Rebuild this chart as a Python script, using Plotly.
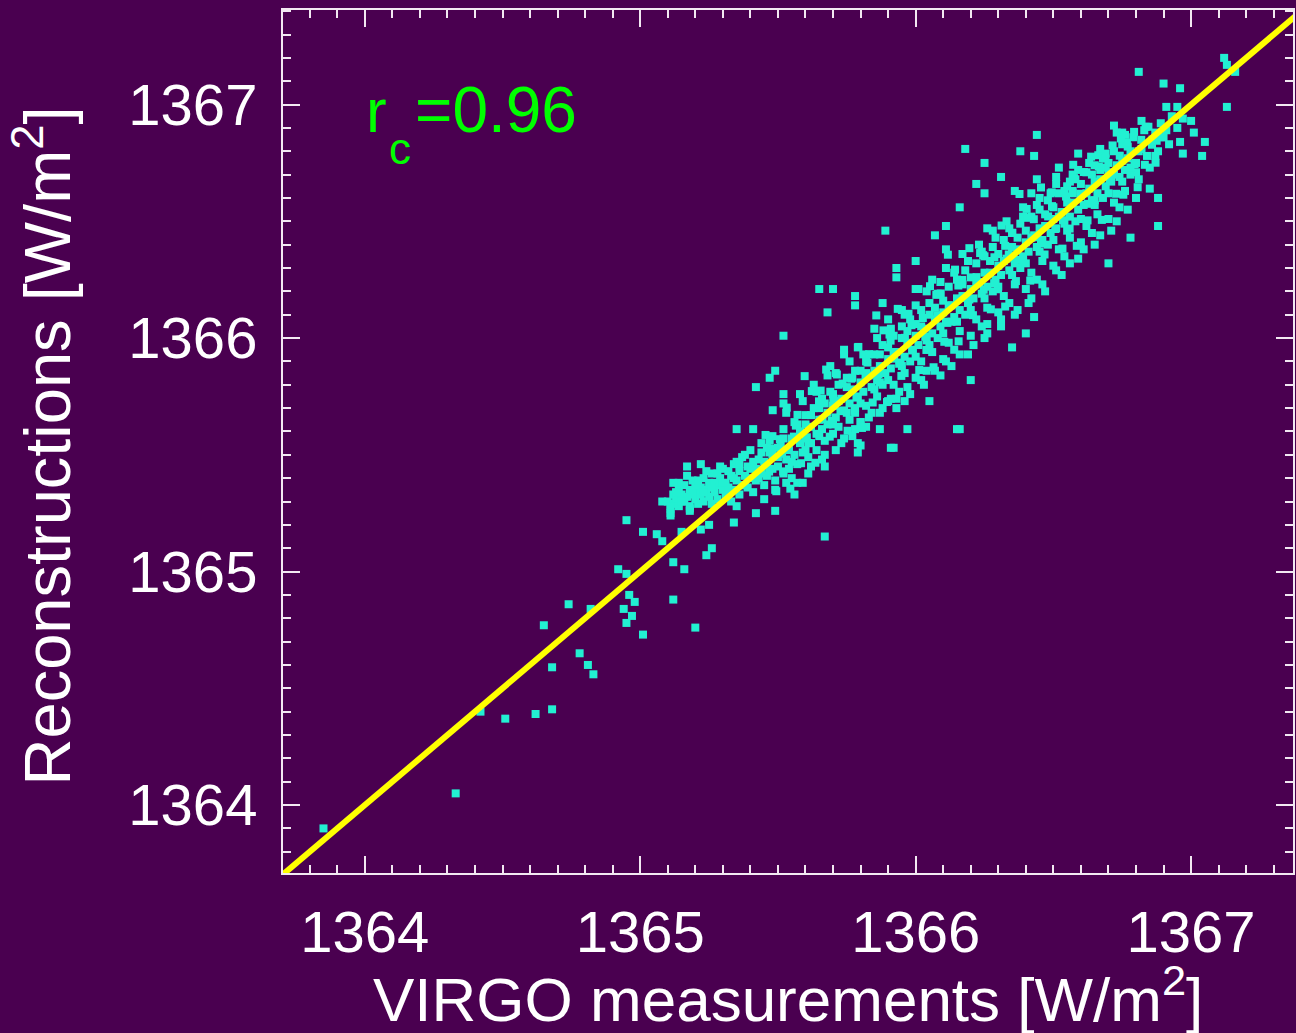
import plotly.graph_objects as go

# ---------------- data ----------------
core_pts = [
(1365.10,1365.30),(1365.11,1365.27),(1365.12,1365.33),(1365.12,1365.29),
(1365.13,1365.31),(1365.14,1365.35),(1365.14,1365.28),(1365.15,1365.33),
(1365.16,1365.30),(1365.16,1365.37),(1365.17,1365.32),(1365.18,1365.28),
(1365.18,1365.35),(1365.19,1365.39),(1365.20,1365.31),(1365.20,1365.34),
(1365.21,1365.29),(1365.22,1365.36),(1365.22,1365.33),(1365.23,1365.40),
(1365.23,1365.30),(1365.24,1365.35),(1365.25,1365.32),(1365.25,1365.38),
(1365.26,1365.29),(1365.26,1365.42),(1365.27,1365.34),(1365.28,1365.37),
(1365.28,1365.31),(1365.29,1365.40),(1365.30,1365.35),(1365.30,1365.44),
(1365.31,1365.32),(1365.31,1365.38),(1365.32,1365.36),(1365.33,1365.41),
(1365.33,1365.30),(1365.34,1365.46),(1365.34,1365.35),(1365.35,1365.39),
(1365.36,1365.43),(1365.36,1365.33),(1365.37,1365.37),(1365.37,1365.49),
(1365.38,1365.41),(1365.39,1365.36),(1365.39,1365.45),(1365.40,1365.40),
(1365.40,1365.52),(1365.41,1365.34),(1365.42,1365.44),(1365.42,1365.39),
(1365.43,1365.48),(1365.44,1365.42),(1365.44,1365.55),(1365.45,1365.37),
(1365.46,1365.46),(1365.46,1365.41),(1365.47,1365.51),(1365.48,1365.44),
(1365.48,1365.58),(1365.49,1365.39),(1365.50,1365.49),(1365.50,1365.45),
(1365.51,1365.54),(1365.52,1365.42),(1365.52,1365.61),(1365.53,1365.48),
(1365.54,1365.52),(1365.54,1365.44),(1365.55,1365.57),(1365.56,1365.50),
(1365.56,1365.64),(1365.57,1365.46),(1365.58,1365.55),(1365.58,1365.60),
(1365.59,1365.51),(1365.60,1365.67),(1365.60,1365.57),(1365.61,1365.49),
(1365.62,1365.62),(1365.62,1365.55),(1365.63,1365.70),(1365.64,1365.59),
(1365.64,1365.52),(1365.65,1365.65),(1365.66,1365.61),(1365.66,1365.74),
(1365.67,1365.56),(1365.68,1365.68),(1365.68,1365.63),(1365.69,1365.77),
(1365.70,1365.59),(1365.70,1365.71),(1365.71,1365.66),(1365.72,1365.80),
(1365.72,1365.62),(1365.73,1365.74),(1365.74,1365.69),(1365.74,1365.57),
(1365.75,1365.83),(1365.76,1365.72),(1365.76,1365.65),(1365.77,1365.78),
(1365.78,1365.70),(1365.78,1365.86),(1365.79,1365.75),(1365.80,1365.64),
(1365.80,1365.81),(1365.81,1365.77),(1365.82,1365.90),(1365.82,1365.71),
(1365.83,1365.84),(1365.84,1365.79),(1365.84,1365.68),(1365.85,1365.93),
(1365.86,1365.82),(1365.86,1365.75),(1365.87,1365.88),(1365.88,1365.80),
(1365.88,1365.97),(1365.89,1365.85),(1365.90,1365.73),(1365.90,1365.91),
(1365.91,1365.87),(1365.92,1366.01),(1365.92,1365.80),(1365.93,1365.94),
(1365.94,1365.89),(1365.94,1365.77),(1365.95,1366.05),(1365.96,1365.92),
(1365.96,1365.85),(1365.97,1365.98),(1365.98,1365.90),(1365.98,1366.08),
(1365.99,1365.95),(1366.00,1365.83),(1366.00,1366.01),(1366.01,1365.97),
(1366.02,1366.12),(1366.02,1365.90),(1366.03,1366.04),(1366.04,1365.99),
(1366.04,1365.86),(1366.05,1366.15),(1366.06,1366.02),(1366.06,1365.94),
(1366.07,1366.08),(1366.08,1366.00),(1366.08,1366.19),(1366.09,1366.05),
(1366.10,1365.91),(1366.10,1366.11),(1366.11,1366.07),(1366.12,1366.22),
(1366.12,1365.98),(1366.13,1366.14),(1366.14,1366.09),(1366.14,1365.95),
(1366.15,1366.25),(1366.16,1366.12),(1366.16,1366.03),(1366.17,1366.18),
(1366.18,1366.10),(1366.18,1366.29),(1366.19,1366.15),(1366.20,1366.01),
(1366.20,1366.21),(1366.21,1366.17),(1366.22,1366.32),(1366.22,1366.08),
(1366.23,1366.24),(1366.24,1366.19),(1366.24,1366.05),(1366.25,1366.35),
(1366.26,1366.22),(1366.26,1366.13),(1366.27,1366.28),(1366.28,1366.20),
(1366.28,1366.39),(1366.29,1366.25),(1366.30,1366.11),(1366.30,1366.31),
(1366.31,1366.27),(1366.32,1366.42),(1366.32,1366.18),(1366.33,1366.34),
(1366.34,1366.29),(1366.34,1366.15),(1366.35,1366.45),(1366.36,1366.32),
(1366.36,1366.23),(1366.37,1366.38),(1366.38,1366.30),(1366.38,1366.49),
(1366.39,1366.35),(1366.40,1366.21),(1366.40,1366.41),(1366.41,1366.37),
(1366.42,1366.52),(1366.42,1366.28),(1366.43,1366.44),(1366.44,1366.39),
(1366.44,1366.25),(1366.45,1366.55),(1366.46,1366.42),(1366.46,1366.33),
(1366.47,1366.48),(1366.48,1366.40),(1366.48,1366.59),(1366.49,1366.45),
(1366.50,1366.31),(1366.50,1366.51),(1366.51,1366.47),(1366.52,1366.62),
(1366.52,1366.38),(1366.53,1366.54),(1366.54,1366.49),(1366.54,1366.35),
(1366.55,1366.65),(1366.56,1366.52),(1366.56,1366.43),(1366.57,1366.58),
(1366.58,1366.50),(1366.58,1366.68),(1366.59,1366.55),(1366.60,1366.41),
(1366.60,1366.61),(1366.61,1366.57),(1366.62,1366.71),(1366.62,1366.48),
(1366.63,1366.64),(1366.64,1366.59),(1366.64,1366.45),(1366.65,1366.74),
(1366.66,1366.62),(1366.66,1366.53),(1366.67,1366.68),(1366.68,1366.60),
(1366.68,1366.77),(1366.69,1366.65),(1366.70,1366.51),(1366.70,1366.71),
(1366.71,1366.67),(1366.72,1366.80),(1366.72,1366.58),(1366.73,1366.74),
(1366.74,1366.69),(1366.75,1366.83),(1366.76,1366.72),(1366.76,1366.63),
(1366.77,1366.77),(1366.78,1366.70),(1366.79,1366.86),(1366.80,1366.75),
(1366.81,1366.68),(1366.82,1366.81),(1366.83,1366.89),(1366.84,1366.78),
(1366.85,1366.73),(1366.86,1366.85),(1366.88,1366.80),(1366.89,1366.92),
(1366.90,1366.86),(1366.92,1366.83),(1366.93,1366.95),(1366.95,1366.90),
]

wide_pts = [
(1365.52,1365.72),(1365.55,1365.40),(1365.58,1365.76),(1365.61,1365.42),
(1365.63,1365.80),(1365.66,1365.48),(1365.69,1365.88),(1365.71,1365.52),
(1365.74,1365.93),(1365.77,1365.58),(1365.79,1365.96),(1365.82,1365.62),
(1365.85,1366.04),(1365.87,1365.68),(1365.90,1366.08),(1365.93,1365.70),
(1365.95,1366.12),(1365.98,1365.76),(1366.01,1366.21),(1366.03,1365.80),
(1366.06,1366.25),(1366.09,1365.84),(1366.11,1366.30),(1366.13,1365.88),
(1366.17,1366.36),(1366.19,1365.93),(1366.23,1366.40),(1366.25,1366.00),
(1366.28,1366.46),(1366.31,1366.05),(1366.33,1366.50),(1366.36,1366.10),
(1366.39,1366.56),(1366.41,1366.15),(1366.45,1366.60),(1366.47,1366.20),
(1366.51,1366.66),(1366.53,1366.27),(1366.57,1366.70),(1366.59,1366.34),
(1366.63,1366.75),(1366.65,1366.40),(1366.69,1366.79),(1366.71,1366.46),
(1366.75,1366.88),(1366.77,1366.55),(1366.82,1366.93),(1366.85,1366.64),
(1365.53,1365.68),(1365.57,1365.38),(1365.59,1365.73),(1365.62,1365.45),
(1365.64,1365.77),(1365.67,1365.50),(1365.68,1365.84),(1365.71,1365.85),
(1365.73,1365.55),(1365.76,1365.90),(1365.78,1365.61),(1365.81,1365.93),
(1365.83,1365.66),(1365.86,1366.00),(1365.88,1365.70),(1365.91,1366.04),
(1365.93,1365.74),(1365.96,1366.10),(1365.97,1365.79),(1366.00,1366.14),
(1366.02,1365.82),(1366.04,1366.20),(1366.07,1365.86),(1366.09,1366.24),
(1366.11,1365.90),(1366.14,1366.28),(1366.16,1365.93),(1366.19,1366.33),
(1366.21,1365.97),(1366.24,1366.37),(1366.26,1366.02),(1366.29,1366.43),
(1366.31,1366.08),(1366.34,1366.47),(1366.37,1366.12),(1366.39,1366.52),
(1366.42,1366.17),(1366.44,1366.57),(1366.46,1366.23),(1366.49,1366.62),
(1366.51,1366.29),(1366.54,1366.63),(1366.56,1366.32),(1366.59,1366.72),
(1366.61,1366.38),(1366.64,1366.70),(1366.67,1366.44),(1366.69,1366.73),
(1366.73,1366.50),(1366.78,1366.80),
]

fill_pts = [
(1365.60,1365.63),(1365.65,1365.70),(1365.70,1365.76),(1365.75,1365.79),
(1365.80,1365.86),(1365.85,1365.86),(1365.90,1365.96),(1365.95,1366.00),
(1366.00,1366.06),(1366.05,1366.10),(1366.10,1366.16),(1366.15,1366.17),
(1366.20,1366.26),(1366.25,1366.28),(1366.30,1366.36),(1366.35,1366.39),
(1366.40,1366.46),(1366.45,1366.47),(1366.50,1366.56),(1366.55,1366.58),
(1366.60,1366.66),(1366.65,1366.67),(1366.70,1366.75),(1366.75,1366.76),
(1365.52,1365.57),(1365.57,1365.63),(1365.62,1365.67),(1365.67,1365.72),
(1365.72,1365.73),(1365.77,1365.83),(1365.82,1365.85),(1365.87,1365.93),
(1365.92,1365.94),(1365.97,1366.03),(1366.02,1366.05),(1366.07,1366.13),
(1366.12,1366.14),(1366.17,1366.23),(1366.22,1366.24),(1366.27,1366.33),
(1366.32,1366.33),(1366.37,1366.43),(1366.42,1366.43),(1366.47,1366.53),
(1366.52,1366.52),(1366.57,1366.63),(1366.62,1366.62),(1366.67,1366.72),
(1366.72,1366.70),(1366.77,1366.82),(1366.81,1366.80),(1366.87,1366.88),
(1366.91,1366.89),(1366.97,1366.94),
(1365.55,1365.47),(1365.60,1365.52),(1365.65,1365.58),(1365.70,1365.63),
(1365.75,1365.68),(1365.80,1365.72),(1365.85,1365.78),(1365.90,1365.82),
(1365.95,1365.88),(1366.00,1365.92),(1366.05,1365.97),(1366.10,1366.02),
(1366.15,1366.07),(1366.20,1366.12),(1366.25,1366.17),(1366.30,1366.22),
(1366.35,1366.27),(1366.40,1366.32),(1366.45,1366.37),(1366.50,1366.42),
(1366.55,1366.46),(1366.60,1366.51),(1366.65,1366.57),(1366.70,1366.62),
(1366.75,1366.67),(1366.80,1366.71),
(1365.14,1365.38),(1365.17,1365.41),(1365.20,1365.37),(1365.24,1365.43),
(1365.27,1365.38),(1365.29,1365.45),(1365.32,1365.43),(1365.35,1365.47),
(1365.38,1365.50),(1365.41,1365.47),(1365.44,1365.51),(1365.47,1365.56),
(1365.13,1365.34),(1365.15,1365.30),(1365.19,1365.33),(1365.21,1365.39),
(1365.23,1365.34),(1365.26,1365.36),(1365.28,1365.42),(1365.30,1365.38),
(1365.32,1365.33),(1365.34,1365.40),(1365.36,1365.46),(1365.38,1365.37),
(1365.40,1365.44),(1365.43,1365.40),(1365.45,1365.47),(1365.48,1365.50),
(1365.50,1365.53),(1365.46,1365.53),
]

dense_pts = [
(1365.455,1365.585),(1365.468,1365.428),(1365.481,1365.691),(1365.494,1365.344),
(1365.507,1365.567),(1365.519,1365.429),(1365.532,1365.702),(1365.545,1365.355),
(1365.558,1365.578),(1365.571,1365.671),(1365.584,1365.464),(1365.597,1365.837),
(1365.610,1365.550),(1365.623,1365.773),(1365.636,1365.466),(1365.649,1365.729),
(1365.662,1365.652),(1365.675,1365.865),(1365.688,1365.578),(1365.701,1365.741),
(1365.714,1365.844),(1365.727,1365.687),(1365.740,1365.950),(1365.753,1365.603),
(1365.766,1365.826),(1365.779,1365.689),(1365.792,1365.962),(1365.805,1365.615),
(1365.818,1365.838),(1365.831,1365.931),(1365.844,1365.724),(1365.857,1366.097),
(1365.870,1365.810),(1365.883,1366.033),(1365.896,1365.726),(1365.909,1365.989),
(1365.922,1365.912),(1365.935,1366.125),(1365.948,1365.838),(1365.961,1366.001),
(1365.974,1366.104),(1365.987,1365.947),(1366.000,1366.210),(1366.013,1365.863),
(1366.026,1366.086),(1366.039,1365.949),(1366.052,1366.222),(1366.065,1365.875),
(1366.078,1366.098),(1366.091,1366.191),(1366.104,1365.984),(1366.117,1366.357),
(1366.130,1366.070),(1366.143,1366.293),(1366.156,1365.986),(1366.169,1366.249),
(1366.182,1366.172),(1366.195,1366.385),(1366.208,1366.098),(1366.221,1366.261),
(1366.234,1366.364),(1366.247,1366.207),(1366.260,1366.470),(1366.273,1366.123),
(1366.286,1366.346),(1366.299,1366.209),(1366.312,1366.482),(1366.325,1366.135),
(1366.338,1366.358),(1366.351,1366.451),(1366.364,1366.244),(1366.377,1366.617),
(1366.390,1366.330),(1366.403,1366.553),(1366.416,1366.246),(1366.429,1366.509),
(1366.442,1366.432),(1366.455,1366.645),(1366.468,1366.358),(1366.481,1366.521),
(1366.494,1366.624),(1366.507,1366.467),(1366.520,1366.730),(1366.533,1366.383),
(1366.546,1366.606),(1366.559,1366.469),(1366.572,1366.742),(1366.585,1366.395),
(1366.598,1366.618),(1366.611,1366.711),(1366.624,1366.504),(1366.637,1366.777),
(1366.650,1366.590),(1366.663,1366.783),(1366.676,1366.506),(1366.689,1366.769),
(1366.702,1366.692),(1366.715,1366.825),(1366.728,1366.618),(1366.741,1366.781),
(1366.754,1366.614),(1366.767,1366.837),(1366.780,1366.730),(1366.793,1366.883),
(1366.806,1366.646),(1366.819,1366.849),(1366.832,1366.742),(1366.845,1366.905),
(1366.858,1366.828),(1366.871,1366.751),
(1365.475,1365.525),(1365.515,1365.505),(1365.565,1365.625),(1365.605,1365.575),
(1365.655,1365.775),(1365.695,1365.645),(1365.735,1365.805),(1365.785,1365.745),
(1365.825,1365.895),(1365.865,1365.845),(1365.905,1366.015),(1365.945,1365.895),
(1365.985,1366.055),(1366.035,1366.005),(1366.075,1366.185),(1366.115,1366.065),
(1366.155,1366.225),(1366.195,1366.165),(1366.245,1366.355),(1366.285,1366.235),
(1366.325,1366.395),(1366.365,1366.335),(1366.405,1366.515),(1366.455,1366.405),
(1366.495,1366.565),(1366.535,1366.505),(1366.575,1366.685),(1366.625,1366.575),
(1366.665,1366.735),(1366.705,1366.675),(1366.745,1366.855),(1366.795,1366.745),
(1366.835,1366.905),(1366.875,1366.845),
]

sparse_pts = [
(1363.85,1363.90),(1364.33,1364.05),(1364.42,1364.40),(1364.51,1364.37),
(1364.62,1364.39),(1364.68,1364.41),(1364.65,1364.77),(1364.68,1364.59),
(1364.78,1364.65),(1364.81,1364.60),(1364.83,1364.56),(1364.74,1364.86),
(1364.82,1364.84),(1364.95,1365.22),(1365.01,1365.17),(1365.06,1365.16),
(1365.08,1365.13),(1365.11,1365.28),(1365.15,1365.17),(1365.12,1365.04),
(1365.16,1365.01),(1364.92,1365.01),(1364.95,1364.99),(1364.96,1364.90),
(1364.98,1364.87),(1364.94,1364.84),(1364.97,1364.81),(1364.95,1364.78),
(1365.01,1364.73),(1365.12,1364.88),(1365.20,1364.76),(1365.24,1365.07),
(1365.26,1365.10),(1365.22,1365.18),(1365.18,1365.26),(1365.11,1365.24),
(1365.11,1365.25),(1365.18,1365.27),(1365.25,1365.20),(1365.34,1365.21),
(1365.35,1365.28),(1365.42,1365.25),(1365.45,1365.31),(1365.49,1365.26),
(1365.49,1365.35),(1365.56,1365.33),(1365.59,1365.38),(1365.53,1365.38),
(1365.67,1365.45),(1365.67,1365.15),(1365.79,1365.55),(1365.79,1365.51),
(1365.91,1365.53),(1366.15,1365.61),(1365.80,1365.54),(1365.78,1365.68),
(1365.52,1366.01),(1365.49,1365.86),(1365.47,1365.83),(1365.42,1365.79),
(1365.52,1365.76),(1365.35,1365.61),(1365.41,1365.61),(1365.17,1365.45),
(1365.22,1365.46),(1365.12,1365.38),(1365.08,1365.30),(1365.80,1365.64),
(1365.87,1365.61),(1365.91,1365.74),(1365.89,1366.46),(1366.07,1366.44),
(1366.11,1366.38),(1366.16,1366.56),(1366.11,1366.48),(1365.70,1366.21),
(1365.78,1366.18),(1365.78,1366.14),(1365.88,1366.15),(1365.68,1366.11),
(1365.93,1366.30),(1365.93,1366.26),(1366.00,1366.33),(1365.65,1366.21),
(1366.44,1366.87),(1366.18,1366.81),(1366.38,1366.80),(1366.25,1366.75),
(1366.31,1366.69),(1366.43,1366.78),(1366.22,1366.66),(1366.36,1366.63),
(1366.42,1366.62),(1366.44,1366.68),(1366.51,1366.69),(1366.59,1366.79),
(1366.67,1366.81),(1366.56,1366.67),(1366.57,1366.62),(1366.25,1366.62),
(1366.81,1367.14),(1366.90,1367.09),(1366.96,1367.07),(1367.12,1367.20),
(1367.13,1367.17),(1367.16,1367.14),(1367.13,1366.99),(1366.91,1366.99),
(1366.95,1366.99),(1367.00,1366.93),(1367.01,1366.88),(1367.05,1366.84),
(1367.04,1366.78),(1366.97,1366.79),(1366.96,1366.84),(1366.88,1366.60),
(1366.80,1366.60),(1366.88,1366.48),(1366.78,1366.43),(1366.70,1366.32),
(1366.72,1366.91),(1366.76,1366.87),(1366.73,1366.88),(1366.74,1366.56),
(1366.89,1366.86),(1366.87,1366.78),(1366.20,1365.82),(1366.35,1365.96),
(1366.43,1366.09),(1366.26,1366.06),(1366.05,1365.73),(1365.96,1365.73),
(1366.16,1365.61),(1365.97,1365.61),(1365.92,1365.53),(1366.40,1366.02),
]

x_ticks = [1364, 1365, 1366, 1367]
y_ticks = [1364, 1365, 1366, 1367]
x_range = [1363.703, 1367.37]
y_range = [1363.709, 1367.405]
one_to_one = [1363.70, 1367.40]

all_pts = core_pts + wide_pts + fill_pts + dense_pts + sparse_pts
xs = [p[0] for p in all_pts]
ys = [p[1] for p in all_pts]

BG = "#4a0050"
CYAN = "#22f0d2"
FONT = "Liberation Sans"
AXC = "#f2e8f2"
GREEN = "#00ff00"

fig = go.Figure()
fig.add_trace(go.Scatter(
    x=xs, y=ys, mode="markers",
    marker=dict(symbol="square", size=8, color=CYAN, line=dict(width=0)),
    hoverinfo="skip", showlegend=False))
fig.add_trace(go.Scatter(
    x=one_to_one, y=one_to_one, mode="lines",
    line=dict(color="#ffff00", width=6),
    hoverinfo="skip", showlegend=False))

axis_common = dict(
    showline=True, linecolor=AXC, linewidth=2, mirror="ticks",
    ticks="inside", ticklen=17, tickwidth=2, tickcolor=AXC,
    showgrid=False, zeroline=False,
    tickfont=dict(family=FONT, size=58, color="white"),
    minor=dict(ticks="inside", ticklen=8, tickwidth=2, tickcolor=AXC,
               dtick=0.1, showgrid=False),
)
fig.update_xaxes(range=x_range, tickvals=x_ticks,
                 ticktext=[str(v) for v in x_ticks],
                 ticklabelstandoff=7, **axis_common)
fig.update_yaxes(range=y_range, tickvals=y_ticks,
                 ticktext=[str(v) for v in y_ticks],
                 ticklabelstandoff=12, **axis_common)

fig.add_annotation(xref="paper", yref="paper", x=0.5, y=-0.141,
                   xanchor="center", yanchor="middle", showarrow=False,
                   text="VIRGO measurements [W/m<sup>2</sup>]",
                   font=dict(family=FONT, size=62, color="white"))
fig.add_annotation(xref="paper", yref="paper", x=-0.238, y=0.495,
                   xanchor="center", yanchor="middle", showarrow=False,
                   textangle=-90,
                   text="Reconstructions [W/m<sup>2</sup>]",
                   font=dict(family=FONT, size=65, color="white"))
# r_c = 0.96 label (r, subscript c, value)
fig.add_annotation(xref="paper", yref="paper", x=0.080, y=0.884,
                   xanchor="left", yanchor="middle", showarrow=False,
                   text="r", font=dict(family=FONT, size=62, color=GREEN))
fig.add_annotation(xref="paper", yref="paper", x=0.103, y=0.840,
                   xanchor="left", yanchor="middle", showarrow=False,
                   text="c", font=dict(family=FONT, size=44, color=GREEN))
fig.add_annotation(xref="paper", yref="paper", x=0.129, y=0.884,
                   xanchor="left", yanchor="middle", showarrow=False,
                   text="=0.96", font=dict(family=FONT, size=64, color=GREEN))

fig.update_layout(
    width=1296, height=1033,
    margin=dict(l=283, r=1, t=10, b=160),
    paper_bgcolor=BG, plot_bgcolor=BG,
)
fig.write_html(
    "out.html",
    config={"displayModeBar": False},
    post_script=("document.documentElement.style.margin='0';"
                 "document.body.style.margin='0';"
                 "document.body.style.overflow='hidden';"
                 "document.documentElement.style.overflow='hidden';"
                 "document.body.style.background='" + BG + "';"))
